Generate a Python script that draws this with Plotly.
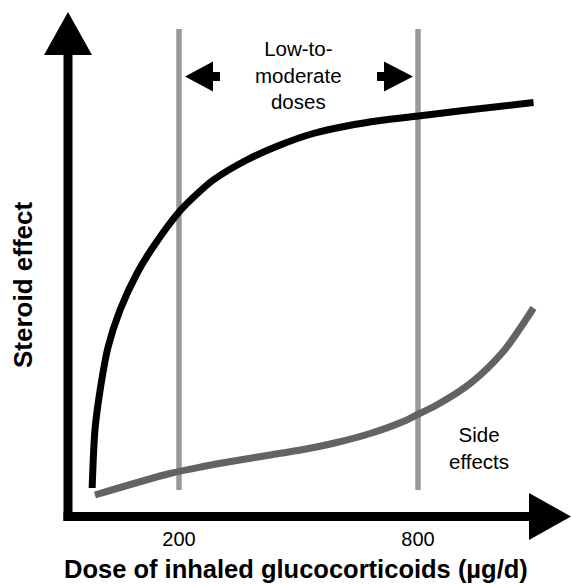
import plotly.graph_objects as go

# ---- data (schematic dose-response) ----
effect_dose = [-18, -11, 2, 22, 52, 95, 135, 200, 245, 286, 370, 454, 537, 621, 705, 801, 914, 1090]
effect_value = [5.8, 17.4, 25.4, 34.0, 41.4, 48.8, 54.0, 61.0, 64.6, 67.4, 71.4, 74.4, 76.7, 78.2, 79.3, 80.2, 81.3, 82.9]

side_dose = [-11, 177, 261, 345, 429, 512, 596, 680, 763, 801, 847, 931, 1014, 1090]
side_value = [4.4, 8.7, 10.1, 11.3, 12.4, 13.5, 14.9, 16.7, 19.1, 20.6, 22.4, 26.7, 33.1, 41.8]

dose_marks = [200, 800]
tick_labels = ["200", "800"]

W, H = 571, 584
ML, MB = 68, 67
PW, PH = W - ML, H - MB

# axis ranges: 200 -> px 179, 800 -> px 418 ; effect 5 px per unit
PX_PER_DOSE = (418 - 179) / 600.0
x0 = 200 - (179 - ML) / PX_PER_DOSE
x1 = 200 + (W - 179) / PX_PER_DOSE
y0 = 0.0
y1 = PH / 5.0

def px(xp):
    return (xp - ML) / PW

def py(yp):
    return (H - MB - yp) / PH

fig = go.Figure()
fig.add_trace(go.Scatter(x=side_dose, y=side_value, mode="lines",
                         line=dict(color="#636363", width=7, shape="spline", smoothing=0.8),
                         hoverinfo="skip", showlegend=False))
fig.add_trace(go.Scatter(x=effect_dose, y=effect_value, mode="lines",
                         line=dict(color="#000000", width=7, shape="spline", smoothing=0.8),
                         hoverinfo="skip", showlegend=False))

shapes = []
# vertical dose lines
for d in dose_marks:
    shapes.append(dict(type="line", xref="x", yref="paper", x0=d, x1=d,
                       y0=py(490), y1=py(29), line=dict(color="#999999", width=5.5), layer="below"))

def tri(points):
    p = "M " + " L ".join(f"{px(a)},{py(b)}" for a, b in points) + " Z"
    return dict(type="path", xref="paper", yref="paper", path=p,
                fillcolor="black", line=dict(color="black", width=0))

def rect(xa, ya, xb, yb):
    return dict(type="rect", xref="paper", yref="paper", x0=px(xa), x1=px(xb),
                y0=py(yb), y1=py(ya), fillcolor="black", line=dict(width=0))

# axes with arrowheads
shapes.append(rect(63.5, 50, 72.5, 521))
shapes.append(tri([(68, 12), (44, 55), (92, 55)]))
shapes.append(rect(63.5, 512, 532, 521))
shapes.append(tri([(571, 516.5), (529, 493), (529, 540)]))
# range arrows
shapes.append(tri([(185, 76.5), (213, 61.5), (213, 91.5)]))
shapes.append(rect(212, 72, 220, 81))
shapes.append(tri([(413, 76.5), (384, 61.5), (384, 91.5)]))
shapes.append(rect(377, 72, 385, 81))

font = "Liberation Sans, Arial, sans-serif"
annotations = [
    dict(text="Low-to-<br>moderate<br>doses", xref="x", yref="paper",
         x=sum(dose_marks) / 2, y=py(75), showarrow=False,
         font=dict(family=font, size=20.5, color="black"), xanchor="center", yanchor="middle"),
    dict(text="Side<br>effects", xref="paper", yref="paper",
         x=px(479), y=py(448), showarrow=False,
         font=dict(family=font, size=20.5, color="black"), xanchor="center", yanchor="middle"),
    dict(text="<b>Dose of inhaled glucocorticoids (µg/d)</b>", xref="paper", yref="paper",
         x=px(296), y=py(569), showarrow=False,
         font=dict(family=font, size=25.5, color="black"), xanchor="center", yanchor="middle"),
    dict(text="<b>Steroid effect</b>", xref="paper", yref="paper",
         x=px(23), y=py(285), showarrow=False, textangle=-90,
         font=dict(family=font, size=26, color="black"), xanchor="center", yanchor="middle"),
]

fig.update_layout(
    width=W, height=H,
    margin=dict(l=ML, r=0, t=0, b=MB, autoexpand=False),
    paper_bgcolor="white", plot_bgcolor="white",
    shapes=shapes, annotations=annotations,
    xaxis=dict(range=[x0, x1], showgrid=False, zeroline=False, showline=False,
               tickvals=dose_marks, ticktext=tick_labels, ticks="", ticklen=0,
               ticklabelstandoff=8,
               tickfont=dict(family=font, size=20, color="black"), fixedrange=True),
    yaxis=dict(range=[y0, y1], showgrid=False, zeroline=False, showline=False,
               showticklabels=False, ticks="", fixedrange=True),
)

fig.write_html("out.html", config=dict(displayModeBar=False),
               post_script="document.body.style.margin='0';document.body.style.padding='0';document.body.style.overflow='hidden';")
